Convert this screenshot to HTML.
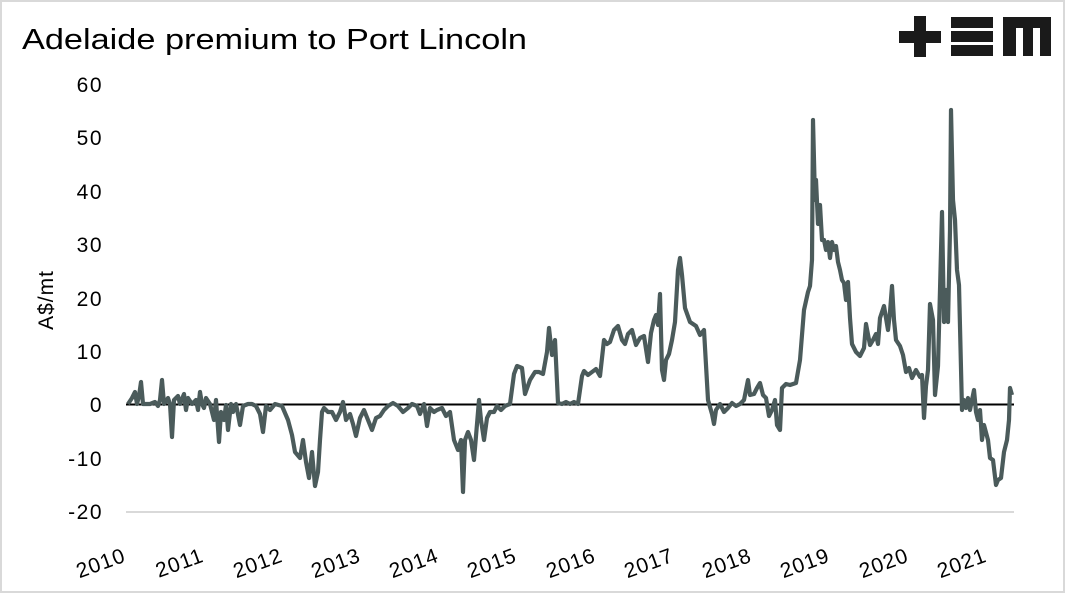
<!DOCTYPE html>
<html><head><style>
body{margin:0;background:#fff}
.f{width:1061px;height:589px;border:2px solid #d9d9d9;position:relative;background:#fff;overflow:hidden}
</style></head><body><div class="f">
<svg width="1061" height="589" viewBox="2 2 1061 589" xmlns="http://www.w3.org/2000/svg" style="position:absolute;left:0;top:0">
<text x="22" y="49" font-family="Liberation Sans, sans-serif" font-size="29" fill="#000" textLength="505" lengthAdjust="spacingAndGlyphs">Adelaide premium to Port Lincoln</text>
<g fill="#1a1a1a">
<rect x="899" y="31" width="42" height="12"/><rect x="914" y="16" width="12" height="41"/>
<rect x="951" y="17" width="42" height="11"/><rect x="951" y="31" width="42" height="11"/><rect x="951" y="45" width="42" height="11"/>
<rect x="1003" y="17" width="48" height="39"/>
</g>
<g fill="#fff"><rect x="1016" y="28" width="7" height="28"/><rect x="1033" y="28" width="7" height="28"/></g>
<g font-family="Liberation Sans, sans-serif" font-size="21" fill="#000" text-anchor="end" letter-spacing="1.5">
<text x="103" y="92">60</text><text x="103" y="145">50</text><text x="103" y="199">40</text><text x="103" y="252">30</text><text x="103" y="306">20</text><text x="103" y="359">10</text><text x="103" y="412">0</text><text x="103" y="466">-10</text><text x="103" y="519">-20</text>
</g>
<text transform="translate(53,300) rotate(-90)" font-family="Liberation Sans, sans-serif" font-size="21" letter-spacing="1" text-anchor="middle">A$/mt</text>
<line x1="126" y1="512" x2="1014" y2="512" stroke="#d9d9d9" stroke-width="2"/>
<g font-family="Liberation Sans, sans-serif" font-size="21" fill="#000" text-anchor="end" letter-spacing="1">
<text transform="translate(127,561) rotate(-20)">2010</text>
<text transform="translate(205,561) rotate(-20)">2011</text>
<text transform="translate(284,561) rotate(-20)">2012</text>
<text transform="translate(362,561) rotate(-20)">2013</text>
<text transform="translate(440,561) rotate(-20)">2014</text>
<text transform="translate(518,561) rotate(-20)">2015</text>
<text transform="translate(597,561) rotate(-20)">2016</text>
<text transform="translate(675,561) rotate(-20)">2017</text>
<text transform="translate(753,561) rotate(-20)">2018</text>
<text transform="translate(831,561) rotate(-20)">2019</text>
<text transform="translate(910,561) rotate(-20)">2020</text>
<text transform="translate(988,561) rotate(-20)">2021</text>
</g>
<line x1="126" y1="404.5" x2="1014" y2="404.5" stroke="#000" stroke-width="2"/>
<polyline fill="none" stroke="#4b5b5b" stroke-width="4.2" stroke-linejoin="round" points="128,404 132,398 135,392 137,404 139,396 141,382 143,404 150,404 155,402 158,406 160,400 162,380 164,404 168,398 170,404 172,437 174,400 178,396 180,404 184,394 186,410 188,398 192,404 196,400 198,410 200,392 202,404 204,408 206,398 210,404 214,420 216,400 219,442 221,412 224,420 226,405 228,430 231,404 233,412 236,404 240,425 243,406 248,404 252,404 256,406 260,414 263,432 266,406 270,410 275,404 282,406 288,420 292,435 295,452 300,458 303,440 306,462 309,478 312,452 315,486 318,472 320,440 322,412 324,408 328,412 332,412 336,420 340,412 343,402 346,420 350,414 353,424 356,436 360,418 364,410 368,420 372,430 376,418 380,416 384,410 388,406 393,403 398,406 403,412 408,408 412,404 417,406 420,414 424,404 427,426 430,408 434,412 437,410 442,408 446,416 450,412 454,440 458,450 461,440 463,492 465,440 468,432 471,440 474,460 476,436 479,400 481,420 484,440 487,418 490,412 494,412 497,406 501,410 505,406 510,404 514,374 517,366 522,368 525,394 530,380 535,372 539,372 543,374 547,352 549,328 552,355 555,340 558,403 562,404 566,402 570,404 574,402 578,404 582,376 584,371 588,375 592,372 596,369 600,376 604,340 607,344 610,342 614,330 618,326 622,340 625,344 628,334 632,330 636,345 640,338 644,336 648,362 651,333 654,320 656,315 658,325 660,294 662,370 664,380 666,360 669,354 672,340 675,322 678,270 680,258 682,275 685,308 690,322 696,326 700,335 704,330 708,400 712,414 714,424 716,410 720,404 724,412 728,408 732,403 736,406 740,404 744,400 748,380 750,395 754,394 757,388 760,383 763,395 766,398 769,416 772,410 775,400 777,425 780,430 782,388 786,384 790,385 796,383 800,360 804,310 808,292 810,286 812,260 813,120 815,200 816,180 818,224 820,205 822,240 824,240 826,250 828,242 830,258 832,242 834,250 836,246 838,262 840,270 842,280 844,283 846,300 848,282 850,318 852,344 856,352 860,356 864,348 866,324 870,345 873,340 876,334 878,344 880,318 884,306 888,330 890,312 892,286 894,320 896,340 900,346 903,355 906,372 909,368 912,378 916,370 920,377 922,375 924,418 926,386 928,370 930,304 933,320 935,395 938,366 940,290 942,212 944,322 946,290 948,322 950,230 951,110 953,200 955,220 957,270 959,285 962,410 964,400 966,408 968,398 970,410 972,400 974,390 976,412 978,420 980,410 982,440 984,425 988,440 990,458 993,460 996,485 998,480 1001,478 1004,452 1007,440 1009,420 1010,388 1012,395"/>
</svg></div></body></html>
